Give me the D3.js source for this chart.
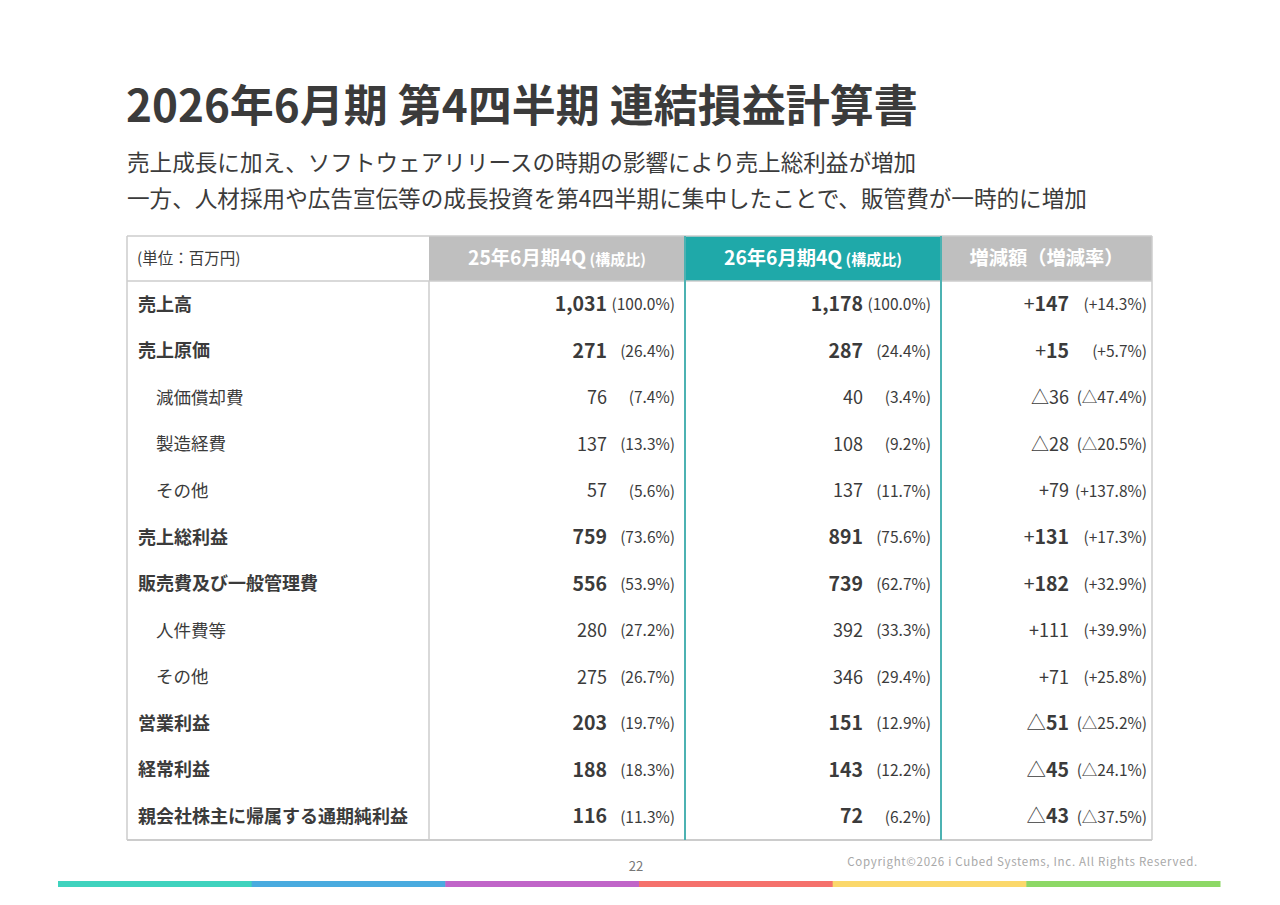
<!DOCTYPE html>
<html lang="ja">
<head>
<meta charset="utf-8">
<script src="https://cdn.jsdelivr.net/npm/d3@7"></script>
<style>
  html, body { margin: 0; padding: 0; background: #fff; }
  svg { display: block; font-family: "Noto Sans CJK JP", "Noto Sans", sans-serif; }
</style>
</head>
<body>
<svg id="chart" width="1280" height="905"></svg>
<script>
// ---- data ----
const title = "2026年6月期 第4四半期 連結損益計算書";
const subtitles = [
  "売上成長に加え、ソフトウェアリリースの時期の影響により売上総利益が増加",
  "一方、人材採用や広告宣伝等の成長投資を第4四半期に集中したことで、販管費が一時的に増加"
];
const unitLabel = "(単位：百万円)";
const headers = [
  { main: "25年6月期4Q", sub: " (構成比)" },
  { main: "26年6月期4Q", sub: " (構成比)" },
  { main: "増減額（増減率）", sub: "" }
];
const items = ["売上高", "売上原価", "減価償却費", "製造経費", "その他", "売上総利益",
  "販売費及び一般管理費", "人件費等", "その他", "営業利益", "経常利益", "親会社株主に帰属する通期純利益"];
const isSub = [false, false, true, true, true, false, false, true, true, false, false, false];
const prevValues = [1031, 271, 76, 137, 57, 759, 556, 280, 275, 203, 188, 116];
const prevRatios = [100.0, 26.4, 7.4, 13.3, 5.6, 73.6, 53.9, 27.2, 26.7, 19.7, 18.3, 11.3];
const curValues = [1178, 287, 40, 108, 137, 891, 739, 392, 346, 151, 143, 72];
const curRatios = [100.0, 24.4, 3.4, 9.2, 11.7, 75.6, 62.7, 33.3, 29.4, 12.9, 12.2, 6.2];
const diffValues = [147, 15, -36, -28, 79, 131, 182, 111, 71, -51, -45, -43];
const diffRates = [14.3, 5.7, -47.4, -20.5, 137.8, 17.3, 32.9, 39.9, 25.8, -25.2, -24.1, -37.5];
const pageNumber = "22";
const copyright = "Copyright©2026 i Cubed Systems, Inc. All Rights Reserved.";
const barColors = ["#3fd3be", "#4aabdf", "#c065c8", "#f5716c", "#fbd86b", "#8dd866"];

// ---- drawing ----
const svg = d3.select("#chart");
const textColor = "#3b3b3b";
const gray = "#bfbfbf";
const teal = "#1fa9a9";
const tealLine = "#4cb2b2";
const borderGray = "#cccccc";

// title
svg.append("text").attr("x", 126).attr("y", 122)
  .attr("font-size", 44).attr("font-weight", 700).attr("fill", textColor)
  .text(title);
svg.selectAll("text.sub").data(subtitles).join("text").attr("class", "sub")
  .attr("x", 127).attr("y", (d, i) => 171 + i * 36)
  .attr("font-size", 22.6).attr("fill", textColor)
  .text(d => d);

// table geometry
const colEdges = [127, 429, 685, 941, 1152];
const headTop = 236, headBottom = 281, tableBottom = 840;
const y = d3.scaleBand().domain(d3.range(items.length)).range([headBottom, tableBottom]);

// header cells
const headG = svg.append("g");
headG.append("rect").attr("x", colEdges[1]).attr("y", headTop)
  .attr("width", colEdges[2] - colEdges[1]).attr("height", headBottom - headTop).attr("fill", gray);
headG.append("rect").attr("x", colEdges[2]).attr("y", headTop)
  .attr("width", colEdges[3] - colEdges[2]).attr("height", headBottom - headTop).attr("fill", teal);
headG.append("rect").attr("x", colEdges[3]).attr("y", headTop)
  .attr("width", colEdges[4] - colEdges[3]).attr("height", headBottom - headTop).attr("fill", gray);

headG.append("text").attr("x", 137).attr("y", headTop + 23).attr("dy", "0.35em")
  .attr("font-size", 15.5).attr("fill", textColor).text(unitLabel);

headers.forEach((h, i) => {
  const cx = (colEdges[i + 1] + colEdges[i + 2]) / 2;
  const t = headG.append("text").attr("x", cx).attr("y", headTop + 23).attr("dy", "0.35em")
    .attr("text-anchor", "middle").attr("fill", "#fff").attr("font-weight", 700);
  t.append("tspan").attr("font-size", 19.3).text(h.main);
  if (h.sub) t.append("tspan").attr("font-size", 15).text(h.sub);
});

// borders
const lines = svg.append("g");
lines.append("line").attr("x1", colEdges[0]).attr("x2", colEdges[4]).attr("y1", headTop).attr("y2", headTop)
  .attr("stroke", borderGray).attr("stroke-width", 1.5);
lines.append("line").attr("x1", colEdges[0]).attr("x2", colEdges[4]).attr("y1", headBottom).attr("y2", headBottom)
  .attr("stroke", borderGray).attr("stroke-width", 1.5);
lines.append("line").attr("x1", colEdges[0]).attr("x2", colEdges[4]).attr("y1", tableBottom).attr("y2", tableBottom)
  .attr("stroke", borderGray).attr("stroke-width", 2);
[colEdges[0], colEdges[1], colEdges[4]].forEach((x, i) => {
  lines.append("line").attr("x1", x).attr("x2", x)
    .attr("y1", i === 1 ? headBottom : headTop).attr("y2", tableBottom)
    .attr("stroke", borderGray).attr("stroke-width", 1.5);
});
[colEdges[2], colEdges[3]].forEach(x => {
  lines.append("line").attr("x1", x).attr("x2", x).attr("y1", headTop).attr("y2", tableBottom)
    .attr("stroke", tealLine).attr("stroke-width", 2);
});

// rows
const fmtNum = d3.format(",");
const fmtPct = d3.format(".1f");
const sign = v => (v < 0 ? "△" : "+");
const numRight = [607, 863, 1069];
const pctRight = [675, 931, 1147];

const rows = svg.append("g").selectAll("g.row").data(items).join("g").attr("class", "row")
  .attr("transform", (d, i) => `translate(0,${y(i) + y.bandwidth() / 2})`);

rows.append("text")
  .attr("x", (d, i) => isSub[i] ? 156 : 138).attr("dy", "0.35em")
  .attr("font-size", (d, i) => isSub[i] ? 17.5 : 18)
  .attr("font-weight", (d, i) => isSub[i] ? 400 : 700)
  .attr("fill", textColor).text(d => d);

rows.each(function (d, i) {
  const g = d3.select(this);
  const bold = !isSub[i];
  const numSize = bold ? 19.5 : 18;
  const cols = [
    { num: fmtNum(prevValues[i]), pct: `(${fmtPct(prevRatios[i])}%)` },
    { num: fmtNum(curValues[i]), pct: `(${fmtPct(curRatios[i])}%)` },
    { signStr: sign(diffValues[i]), num: fmtNum(Math.abs(diffValues[i])),
      pct: `(${sign(diffRates[i])}${fmtPct(Math.abs(diffRates[i]))}%)` }
  ];
  cols.forEach((c, j) => {
    const t = g.append("text").attr("x", numRight[j]).attr("dy", "0.42em")
      .attr("text-anchor", "end").attr("fill", textColor);
    if (c.signStr) t.append("tspan").attr("font-size", numSize).attr("font-weight", 400).text(c.signStr);
    t.append("tspan").attr("font-size", numSize).attr("font-weight", bold ? 700 : 400).text(c.num);
    g.append("text").attr("x", pctRight[j]).attr("dy", "0.38em")
      .attr("text-anchor", "end").attr("fill", textColor)
      .attr("font-size", 15.5).text(c.pct);
  });
});

// footer
svg.append("text").attr("x", 636).attr("y", 871).attr("text-anchor", "middle")
  .attr("font-size", 13).attr("fill", "#777").text(pageNumber);
svg.append("text").attr("x", 1198).attr("y", 866).attr("text-anchor", "end")
  .attr("font-size", 11.5).attr("letter-spacing", 0.7).attr("fill", "#a8a8a8").text(copyright);

const xBar = d3.scaleBand().domain(d3.range(barColors.length)).range([58, 1220]);
svg.append("g").selectAll("rect").data(barColors).join("rect")
  .attr("x", (d, i) => xBar(i)).attr("y", 881)
  .attr("width", xBar.bandwidth() + 0.5).attr("height", 6)
  .attr("fill", d => d);
</script>
</body>
</html>
